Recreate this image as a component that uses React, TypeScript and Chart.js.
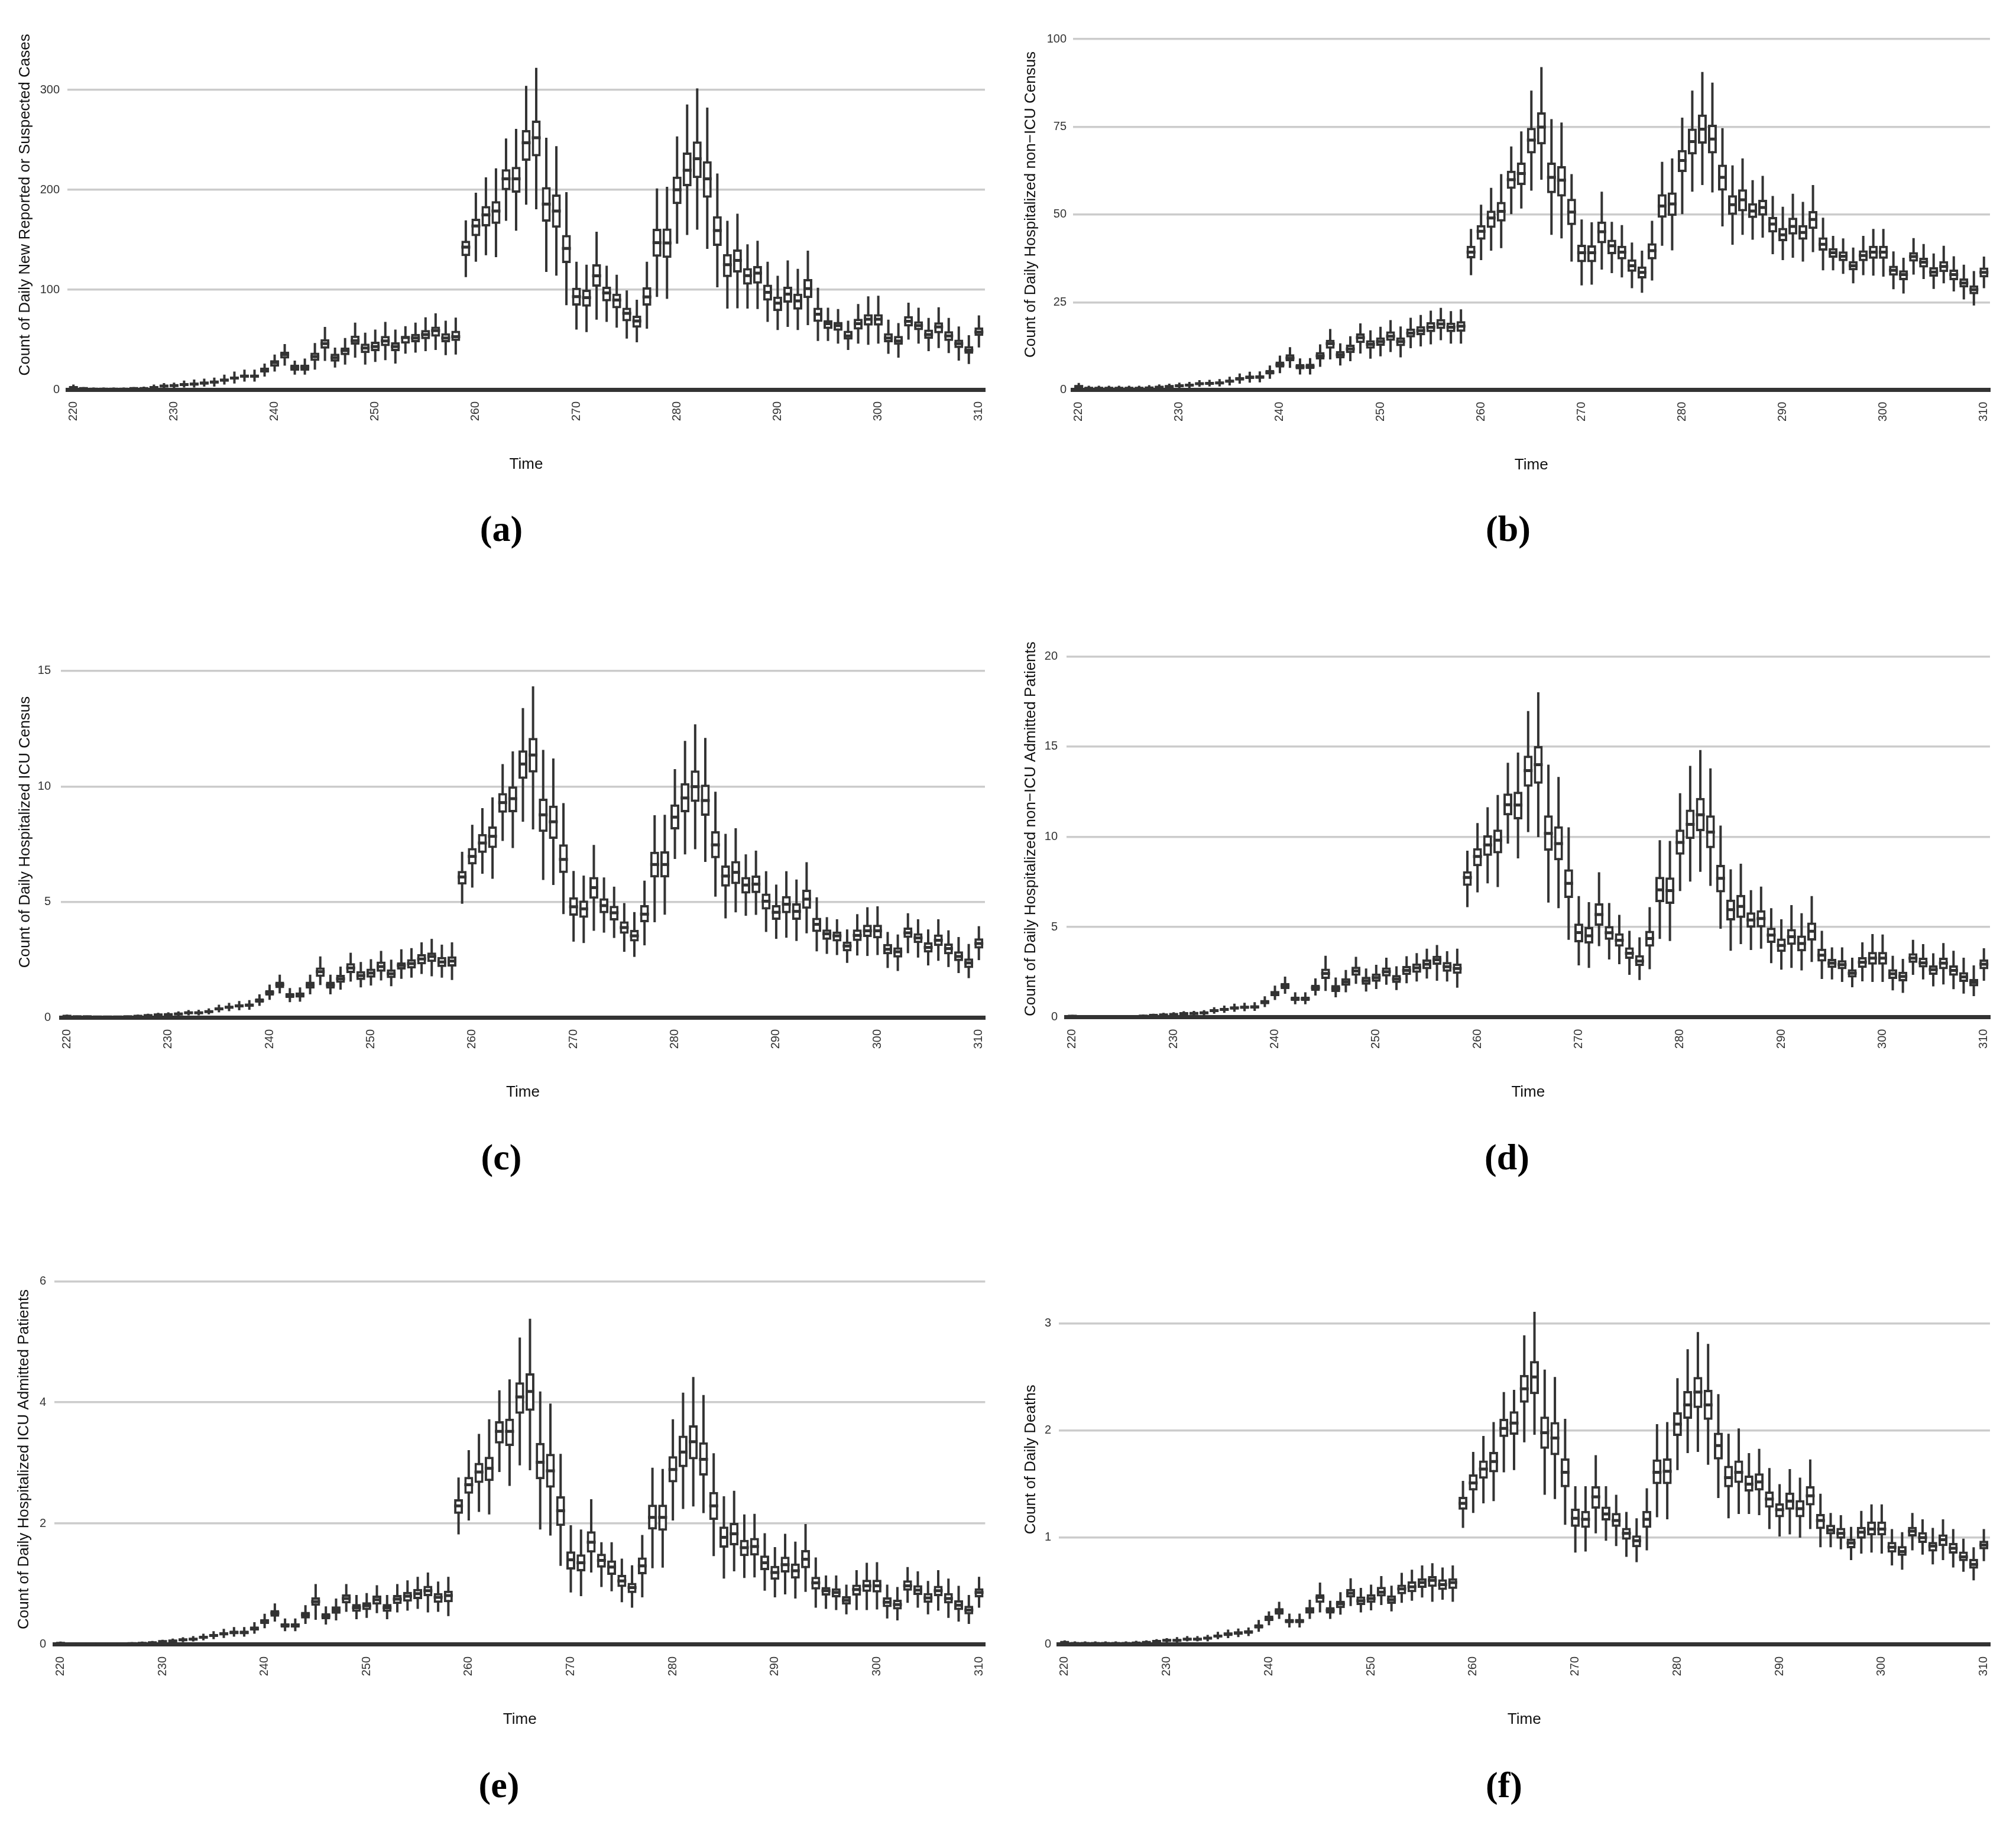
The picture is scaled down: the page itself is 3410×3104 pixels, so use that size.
import React, { useEffect, useRef } from 'react';
import { Chart, registerables } from 'chart.js';

Chart.register(...registerables);

// ---------- data ----------
const days: number[] = Array.from({ length: 91 }, (_, i) => 220 + i);
const xTickValues = [220, 230, 240, 250, 260, 270, 280, 290, 300, 310];

// each entry: [lower whisker, Q1, median, Q3, upper whisker], days 220..310
const casesStats: number[][] = [
  [0,1,2,3,5],[0,0,1,1.5,2.5],[0,0,0.5,1,2],[0,0,0.5,1,2],[0,0,0.5,1,2],[0,0,0.5,1,2],[0,0,1,1.5,2.5],[0,0.5,1,2,3],[0,1,2,3,5],
  [1,2.5,3.5,4.5,6.5],[1,3,4,5,7],[2,4,5,6,9],[2,4.5,5.5,7,10],[3,5,6.5,8,11],[3,6,7.5,9,12],[5,8,9.5,11,15],[6,10,11.5,13,18],
  [8,12,13.5,15,20],[8,12,13.5,15,20],[13,17,19,22,26],[18,23,27,29.5,35],[24,31,35,38,45.5],[15,19,22,25,29],[15,19,22.5,25,31],
  [20,28.7,33,37,46.6],[28.7,41,46,50.4,62.7],[22,28,32,36,42],[25,34.5,39,42,51.7],[32,45,49,54,67],[25,36.6,41.5,46,57],
  [27.6,38.4,43,47.9,60],[29.4,43.5,48.6,53.7,67.8],[26,38.4,43,47.3,60],[36,46,52,53.7,63.5],[37,47.3,51.7,55.8,67],
  [38.4,50.4,55,59.6,72.4],[39.7,53,59,63,76.3],[34.5,47.3,51.7,56.3,69],[35,48.6,53,58.9,72],
  [112.6,133.6,142.6,149,169.4],[128,153.6,163.8,171,197],[134.4,163.3,174.8,183.8,212.4],[132.6,165.9,178.7,188.6,221.4],
  [169,199.6,211,220.6,251.3],[159,197,211,223,261],[185,229,247,259.8,304],[180.4,233.4,252,269.3,322],
  [117.7,168,185.6,202.7,252],[114,162,178.7,195.3,243.7],[84.5,126.7,141.3,154.8,197.6],[60,84,93,101.9,128],
  [57.6,83,92,100,125],[70,103,113.9,125.4,158],[67.8,88.3,96.7,103,124],[62,81.4,89.6,96,115],[51,68.3,76.3,81.9,99.3],
  [47.4,62,68.6,74,90],[61,84,92.7,102.4,128],[92.7,133,147,161,201.4],[90.9,131.8,146.7,161.2,203],[146,185.6,200,213.2,253.4],
  [154.8,203.5,219.6,237.3,285.4],[160,211.7,231,248.3,301.5],[140.8,192,211,228.6,282.3],[102.4,143.8,159.2,173.5,216.3],
  [81,112.6,125,135.7,169],[81.4,117.2,129.3,140.3,176],[81,105,114,121.6,145.4],[80.6,106,116.5,123.6,149],
  [67.8,89,97.3,105,128],[59.6,78.6,86.5,93,113.9],[62.7,87,95.5,103,129.3],[59.6,80,88.8,96,120.8],[64.5,91.6,101,110.6,139],
  [48.6,67.8,75.5,81.9,101.9],[48.6,60.7,66,69.6,81.9],[46,58.9,64,67.8,80.6],[39.7,50,53.7,58.9,69],[46,60,66,70.9,85.7],
  [44.8,64,70.4,75.5,93.4],[46,64,70.4,75.5,94],[35.8,47.3,51.7,56.3,69.9],[32,44.8,48.6,53.7,66.5],[50,63.2,68.3,73.5,87],
  [46,59.4,64,68.3,81.9],[38.4,50.7,55,60,71.7],[41.5,56.3,62.7,67.3,82.4],[36.6,48.6,53.7,58.4,71.7],[29,41.5,46,50,63.2],
  [25.6,35.8,39.4,43.5,54.5],[42.2,53.7,57.6,62.2,74.2],
];

const nonIcuCensusStats: number[][] = [
  [0,0.6,1,1.4,2],[0,0.2,0.5,0.8,1.2],[0,0.2,0.5,0.8,1.2],[0,0.2,0.5,0.8,1.2],[0,0.2,0.5,0.8,1.2],[0,0.2,0.5,0.8,1.2],
  [0,0.2,0.5,0.8,1.2],[0,0.3,0.6,0.9,1.4],[0.1,0.5,0.8,1.1,1.6],[0.3,0.7,1,1.3,1.8],[0.4,0.9,1.2,1.5,2.1],[0.6,1.1,1.4,1.7,2.3],
  [0.9,1.5,1.8,2.1,2.8],[1,1.6,1.9,2.2,2.9],[1,1.7,2,2.4,3.1],[1.3,2.1,2.5,2.9,3.8],[1.8,2.7,3.2,3.7,4.7],[2.1,3.1,3.6,4.1,5.2],
  [2.2,3.2,3.7,4.2,5.3],[3.2,4.4,5,5.7,7],[4.8,6.4,7.2,8.1,9.8],[6.3,8.2,9.1,10.2,12.2],[4.4,5.9,6.6,7.4,9],[4.4,6,6.7,7.5,9.1],
  [6.6,8.7,9.7,10.8,13],[8.7,11.8,13.2,14.3,17.4],[7,9,10,11.1,13.3],[8.2,10.5,11.7,12.9,15.3],[10.4,13.4,14.9,16.1,19],
  [8.9,11.8,13,14.2,17],[9.6,12.6,13.8,15,18],[10.8,14,15.3,16.7,19.9],[9.3,12.5,13.8,15,18.1],[11.9,15,16.2,17.5,20.6],
  [12.4,15.6,16.9,18.2,21.4],[13,16.5,17.9,19.3,22.6],[14.2,17.4,18.8,20.2,23.4],[13.2,16.5,17.9,19.2,22.5],[13.2,16.6,18.2,19.6,23],
  [32.7,37.5,39.3,41.1,45.9],[37,42.8,45.2,47,52.8],[39.7,46.2,49,51.1,57.6],[40.4,48,50.9,53.6,61.5],[50.1,57.3,59.9,62.5,69.4],
  [51.7,58.4,61.7,64.8,73.7],[56.8,67.4,71.2,74.7,85.3],[59.9,70,74.9,79.1,92],[44.2,56.1,60.6,64.8,77.2],[43.2,55.1,59.8,63.8,76.2],
  [36.6,47,50.7,54.5,61.5],[29.8,36.4,39.1,41.4,48.6],[30,36.4,39.1,41.2,47.8],[34.3,41.8,45.1,48,56.5],[33.3,38.7,41.1,42.8,47.9],
  [32.1,37.2,39.3,41.1,47],[29,33.7,35.4,37.2,42],[27.7,31.8,33.5,35.2,39.7],[31.2,37.2,39.7,41.8,48.2],[41.1,49.1,52.4,55.8,65],
  [39.8,49.6,53,56.3,66],[50.1,62.1,65.4,68.4,77.6],[56.5,67.1,70.8,74.5,85.3],[58.4,70.2,74.3,78.5,90.6],[56.3,67.4,71.5,75.6,87.6],
  [46.6,56.8,60.6,64.2,74.6],[41.4,49.9,52.8,55.5,64],[44.2,50.9,54.2,57.2,66],[42.8,49,51,53.2,59.8],[43.4,49.7,52,54.2,61],
  [38.7,44.9,47.3,49.3,55.3],[37,42.4,44.2,46.2,52.2],[37.7,44.3,46.6,49.1,55.9],[36.6,42.8,44.9,47,53.6],[39.3,45.9,48.6,51,58.4],
  [34.1,39.7,41.5,43.5,49.1],[34.1,37.7,39.1,40.4,43.9],[33.1,36.7,38.1,39.5,43.2],[30.4,34.1,35.4,36.7,40.6],[32.7,36.7,38.3,39.8,43.9],
  [32.6,37.4,39.3,41.1,45.9],[32.3,37.4,39.3,41.1,45.9],[28.7,32.6,34.1,35.4,39.5],[27.5,31.3,32.9,34.1,37.7],[32.9,36.6,38,39.3,43.3],
  [31.6,34.9,36.4,37.7,41.6],[28.8,32.3,33.6,35,38.9],[30.4,33.6,35.2,36.7,41.1],[28.1,31.3,32.9,34.3,38.1],[25.8,29.2,30.5,31.8,35.7],
  [24.1,27.3,28.6,29.8,33.9],[29,32.1,33.5,34.9,38],
];

const icuCensusStats: number[][] = [
  [0,0.02,0.05,0.08,0.12],[0,0.01,0.03,0.05,0.08],[0,0.01,0.03,0.05,0.08],[0,0.01,0.02,0.04,0.07],[0,0.01,0.02,0.04,0.07],
  [0,0.01,0.02,0.04,0.07],[0,0.01,0.03,0.05,0.08],[0,0.03,0.05,0.08,0.12],[0.01,0.05,0.08,0.11,0.16],[0.03,0.08,0.11,0.14,0.2],
  [0.04,0.09,0.12,0.15,0.22],[0.06,0.12,0.15,0.18,0.26],[0.09,0.16,0.2,0.24,0.32],[0.09,0.16,0.2,0.24,0.33],[0.13,0.21,0.25,0.3,0.39],
  [0.22,0.31,0.37,0.43,0.55],[0.27,0.38,0.44,0.5,0.63],[0.31,0.43,0.5,0.57,0.71],[0.33,0.46,0.53,0.6,0.75],[0.5,0.64,0.73,0.82,1.0],
  [0.76,0.95,1.07,1.18,1.42],[1.04,1.27,1.42,1.55,1.85],[0.66,0.84,0.95,1.05,1.27],[0.68,0.86,0.98,1.08,1.3],[1.0,1.25,1.4,1.55,1.85],
  [1.4,1.75,1.98,2.16,2.64],[1.0,1.25,1.4,1.55,1.85],[1.2,1.5,1.67,1.84,2.2],[1.55,1.92,2.14,2.35,2.8],[1.3,1.62,1.81,2.0,2.4],
  [1.38,1.72,1.92,2.11,2.52],[1.6,1.98,2.2,2.42,2.88],[1.35,1.7,1.89,2.08,2.5],[1.67,2.07,2.25,2.38,2.95],[1.72,2.12,2.33,2.52,3.0],
  [1.88,2.3,2.53,2.74,3.25],[1.78,2.4,2.64,2.81,3.4],[1.72,2.18,2.4,2.62,3.15],[1.62,2.2,2.44,2.64,3.25],
  [4.92,5.75,6.08,6.34,7.17],[5.62,6.62,6.97,7.33,8.34],[6.22,7.12,7.55,7.94,9.06],[6.0,7.33,7.84,8.27,9.53],[7.64,8.86,9.3,9.71,10.97],
  [7.33,8.88,9.47,10,11.52],[8.47,10.33,10.97,11.56,13.39],[8.14,10.6,11.36,12.1,14.33],[5.95,8.03,8.77,9.47,11.58],[5.73,7.73,8.47,9.17,11.21],
  [4.47,6.25,6.84,7.49,9.28],[3.28,4.4,4.79,5.2,6.34],[3.22,4.31,4.7,5.06,6.14],[3.75,5.14,5.62,6.08,7.47],[3.67,4.51,4.84,5.16,6.06],
  [3.44,4.2,4.53,4.83,5.66],[2.84,3.62,3.89,4.16,4.95],[2.62,3.29,3.53,3.79,4.56],[3.12,4.12,4.47,4.86,5.92],[4.12,6.06,6.62,7.17,8.75],
  [4.45,6.06,6.62,7.19,8.77],[6.86,8.14,8.67,9.22,10.75],[7.06,8.88,9.5,10.14,11.97],[7.28,9.33,9.99,10.69,12.69],[6.73,8.73,9.39,10.08,12.1],
  [5.23,6.89,7.47,8.06,9.77],[4.29,5.66,6.12,6.58,7.95],[4.55,5.77,6.28,6.77,8.19],[4.4,5.36,5.73,6.08,7.06],[4.44,5.38,5.77,6.14,7.22],
  [3.7,4.67,5.03,5.36,6.33],[3.4,4.22,4.55,4.86,5.75],[3.45,4.51,4.9,5.25,6.33],[3.31,4.22,4.59,4.94,5.97],[3.64,4.7,5.12,5.53,6.72],
  [2.86,3.7,4.03,4.31,5.2],[2.75,3.36,3.62,3.81,4.34],[2.7,3.29,3.53,3.72,4.25],[2.36,2.86,3.09,3.28,3.81],[2.68,3.31,3.55,3.81,4.47],
  [2.66,3.48,3.75,4.01,4.77],[2.7,3.42,3.75,4.01,4.81],[2.14,2.73,2.95,3.18,3.7],[2.01,2.59,2.84,3.03,3.59],[2.78,3.44,3.66,3.89,4.51],
  [2.59,3.22,3.44,3.64,4.25],[2.25,2.81,3.03,3.25,3.81],[2.45,3.09,3.34,3.59,4.25],[2.18,2.73,2.98,3.2,3.77],[1.92,2.44,2.64,2.86,3.48],
  [1.7,2.14,2.36,2.55,3.18],[2.48,2.98,3.2,3.42,3.95],
];

const nonIcuAdmitStats: number[][] = [
  [0,0.02,0.05,0.08,0.13],[0,0.01,0.03,0.05,0.08],[0,0.01,0.03,0.05,0.08],[0,0.01,0.02,0.04,0.07],[0,0.01,0.02,0.04,0.07],
  [0,0.01,0.03,0.05,0.08],[0,0.01,0.03,0.05,0.08],[0,0.03,0.06,0.09,0.14],[0.02,0.06,0.1,0.13,0.19],[0.04,0.09,0.13,0.17,0.24],
  [0.05,0.11,0.15,0.19,0.27],[0.08,0.15,0.2,0.24,0.33],[0.09,0.16,0.21,0.26,0.35],[0.11,0.19,0.24,0.29,0.39],[0.19,0.29,0.36,0.42,0.55],
  [0.24,0.35,0.43,0.5,0.64],[0.3,0.42,0.51,0.59,0.75],[0.33,0.46,0.55,0.63,0.8],[0.35,0.48,0.57,0.66,0.83],[0.56,0.72,0.84,0.95,1.16],
  [0.95,1.17,1.31,1.45,1.75],[1.3,1.56,1.73,1.9,2.25],[0.72,0.9,1.02,1.13,1.38],[0.72,0.9,1.02,1.13,1.38],[1.2,1.45,1.63,1.8,2.15],
  [1.45,2.12,2.42,2.69,3.4],[1.1,1.4,1.59,1.78,2.2],[1.38,1.74,1.95,2.16,2.62],[1.85,2.3,2.56,2.8,3.35],[1.42,1.8,2.02,2.24,2.7],
  [1.56,1.96,2.19,2.42,2.9],[1.8,2.26,2.52,2.76,3.3],[1.5,1.9,2.12,2.34,2.82],[1.88,2.34,2.59,2.84,3.38],[1.98,2.46,2.73,2.98,3.55],
  [2.14,2.66,2.94,3.2,3.8],[2.02,2.9,3.18,3.4,4.0],[1.98,2.52,2.8,3.06,3.66],[1.63,2.4,2.7,2.97,3.8],
  [6.1,7.28,7.75,8.09,9.23],[6.92,8.37,8.91,9.37,10.76],[7.42,8.94,9.55,10.08,11.64],[7.21,9.08,9.81,10.4,12.32],[9.62,11.19,11.78,12.4,14.1],
  [8.8,10.97,11.76,12.5,14.67],[10.26,12.78,13.67,14.5,16.97],[9.98,12.94,14,15.03,18.01],[6.35,9.23,10.19,11.19,14],[6.04,8.7,9.62,10.58,13.32],
  [4.29,6.61,7.42,8.2,10.52],[2.87,4.15,4.69,5.19,6.71],[2.73,4.08,4.51,5,6.38],[3.94,5.07,5.69,6.31,8.03],[3.2,4.29,4.68,5.05,6.33],
  [2.94,3.91,4.26,4.65,5.67],[2.35,3.23,3.54,3.87,4.79],[2.06,2.84,3.11,3.44,4.43],[2.66,3.91,4.36,4.79,6.1],[4.34,6.38,7.06,7.78,9.81],
  [4.22,6.28,7.02,7.75,9.77],[6.99,9.01,9.69,10.4,12.42],[7.52,9.88,10.69,11.51,13.93],[8.06,10.31,11.22,12.15,14.81],[7.28,9.37,10.26,11.19,13.79],
  [4.9,6.92,7.7,8.44,10.62],[3.68,5.36,5.96,6.52,8.2],[4.05,5.5,6.14,6.78,8.51],[3.72,4.96,5.39,5.81,7.04],[3.8,4.98,5.47,5.93,7.24],
  [2.99,4.12,4.55,4.96,6.04],[2.63,3.62,3.98,4.36,5.43],[2.73,4.01,4.46,4.89,6.21],[2.59,3.65,4.08,4.53,5.76],[3.06,4.25,4.76,5.25,6.71],
  [2.12,3.08,3.44,3.8,4.79],[2.09,2.73,2.99,3.23,3.87],[1.95,2.66,2.91,3.16,3.87],[1.66,2.2,2.44,2.66,3.3],[1.99,2.73,3.04,3.33,4.15],
  [1.95,2.91,3.27,3.62,4.61],[1.95,2.91,3.27,3.62,4.58],[1.49,2.12,2.4,2.66,3.4],[1.35,1.99,2.26,2.52,3.23],[2.35,3.01,3.27,3.54,4.29],
  [2.09,2.76,3.01,3.3,4.05],[1.71,2.35,2.63,2.87,3.54],[1.81,2.66,2.99,3.3,4.11],[1.55,2.3,2.59,2.87,3.68],[1.31,1.95,2.23,2.49,3.3],
  [1.17,1.71,1.92,2.12,2.87],[2.02,2.66,2.94,3.2,3.82],
];

const icuAdmitStats: number[][] = [
  [0,0.005,0.02,0.03,0.05],[0,0.003,0.01,0.02,0.03],[0,0.003,0.01,0.02,0.03],[0,0.003,0.01,0.02,0.03],[0,0.003,0.01,0.02,0.03],
  [0,0.003,0.01,0.02,0.03],[0,0.003,0.01,0.02,0.03],[0,0.005,0.015,0.025,0.04],[0.005,0.01,0.02,0.03,0.05],[0.01,0.02,0.03,0.04,0.06],
  [0.02,0.04,0.05,0.06,0.08],[0.03,0.05,0.06,0.07,0.1],[0.04,0.06,0.08,0.09,0.12],[0.05,0.07,0.09,0.11,0.14],[0.07,0.1,0.12,0.14,0.18],
  [0.09,0.13,0.15,0.17,0.22],[0.11,0.15,0.18,0.2,0.26],[0.13,0.17,0.2,0.23,0.29],[0.13,0.17,0.2,0.23,0.29],[0.18,0.23,0.26,0.3,0.37],
  [0.27,0.34,0.38,0.42,0.51],[0.38,0.46,0.52,0.57,0.68],[0.22,0.28,0.32,0.35,0.43],[0.22,0.28,0.32,0.35,0.43],[0.34,0.43,0.49,0.54,0.65],
  [0.41,0.64,0.71,0.78,1.0],[0.33,0.42,0.47,0.52,0.63],[0.4,0.51,0.57,0.63,0.76],[0.54,0.68,0.76,0.83,1.0],[0.42,0.54,0.61,0.67,0.82],
  [0.44,0.57,0.64,0.7,0.85],[0.52,0.66,0.74,0.81,0.98],[0.42,0.54,0.61,0.67,0.82],[0.53,0.67,0.75,0.82,1.0],[0.56,0.71,0.8,0.87,1.06],
  [0.59,0.75,0.84,0.92,1.12],[0.53,0.8,0.89,0.97,1.19],[0.54,0.69,0.78,0.85,1.04],[0.47,0.7,0.81,0.89,1.12],
  [1.82,2.16,2.29,2.4,2.76],[2.05,2.49,2.64,2.77,3.21],[2.19,2.67,2.85,3.0,3.48],[2.15,2.7,2.91,3.1,3.72],[2.85,3.32,3.52,3.69,4.2],
  [2.62,3.28,3.52,3.73,4.38],[2.96,3.81,4.09,4.33,5.07],[2.88,3.86,4.18,4.48,5.38],[1.9,2.73,3.01,3.33,4.18],[1.8,2.59,2.87,3.15,3.98],
  [1.3,1.96,2.21,2.45,3.15],[0.86,1.24,1.4,1.54,1.97],[0.8,1.21,1.35,1.49,1.9],[1.19,1.52,1.69,1.87,2.4],[0.95,1.27,1.39,1.5,1.69],
  [0.88,1.15,1.28,1.39,1.69],[0.7,0.95,1.05,1.15,1.42],[0.61,0.85,0.94,1.02,1.31],[0.78,1.16,1.3,1.44,1.81],[1.26,1.9,2.1,2.31,2.92],
  [1.27,1.88,2.1,2.31,2.9],[2.05,2.68,2.89,3.11,3.72],[2.24,2.93,3.18,3.45,4.16],[2.28,3.06,3.35,3.62,4.42],[2.17,2.79,3.06,3.34,4.12],
  [1.46,2.06,2.29,2.52,3.16],[1.09,1.6,1.77,1.95,2.45],[1.21,1.64,1.83,2.01,2.54],[1.1,1.46,1.6,1.73,2.15],[1.11,1.47,1.62,1.76,2.16],
  [0.89,1.23,1.35,1.47,1.84],[0.78,1.07,1.19,1.3,1.61],[0.83,1.19,1.32,1.45,1.83],[0.76,1.09,1.22,1.34,1.7],[0.87,1.26,1.41,1.56,1.99],
  [0.61,0.91,1.02,1.12,1.44],[0.59,0.81,0.89,0.95,1.14],[0.57,0.78,0.86,0.93,1.14],[0.5,0.66,0.73,0.8,0.99],[0.57,0.81,0.91,0.99,1.23],
  [0.57,0.87,0.97,1.07,1.35],[0.58,0.86,0.97,1.07,1.36],[0.43,0.62,0.7,0.78,0.99],[0.4,0.58,0.66,0.74,0.95],[0.69,0.89,0.97,1.06,1.28],
  [0.61,0.82,0.9,0.98,1.21],[0.5,0.69,0.77,0.85,1.05],[0.56,0.8,0.89,0.97,1.23],[0.44,0.68,0.76,0.85,1.09],[0.38,0.57,0.65,0.73,0.97],
  [0.34,0.5,0.57,0.64,0.82],[0.61,0.78,0.86,0.93,1.12],
];

const deathsStats: number[][] = [
  [0,0.005,0.02,0.03,0.04],[0,0.003,0.01,0.02,0.03],[0,0.003,0.01,0.02,0.03],[0,0.003,0.01,0.02,0.03],[0,0.003,0.01,0.02,0.03],
  [0,0.003,0.01,0.02,0.03],[0,0.003,0.01,0.02,0.03],[0,0.005,0.015,0.025,0.035],[0.005,0.01,0.02,0.03,0.04],[0.01,0.02,0.03,0.04,0.05],
  [0.02,0.03,0.04,0.05,0.06],[0.02,0.03,0.04,0.05,0.07],[0.03,0.04,0.05,0.06,0.08],[0.03,0.04,0.05,0.06,0.08],[0.03,0.05,0.06,0.07,0.09],
  [0.05,0.07,0.08,0.09,0.12],[0.06,0.08,0.1,0.11,0.14],[0.07,0.09,0.11,0.12,0.15],[0.08,0.1,0.12,0.13,0.16],[0.12,0.15,0.17,0.19,0.23],
  [0.18,0.22,0.24,0.27,0.31],[0.24,0.28,0.31,0.34,0.4],[0.16,0.2,0.22,0.24,0.29],[0.16,0.2,0.22,0.24,0.29],[0.24,0.29,0.32,0.35,0.42],
  [0.3,0.39,0.44,0.47,0.58],[0.24,0.29,0.32,0.35,0.41],[0.28,0.34,0.38,0.41,0.49],[0.36,0.44,0.48,0.52,0.62],[0.3,0.37,0.41,0.45,0.53],
  [0.32,0.39,0.43,0.47,0.56],[0.37,0.45,0.49,0.54,0.64],[0.31,0.38,0.42,0.46,0.55],[0.39,0.47,0.52,0.56,0.67],[0.41,0.49,0.54,0.59,0.7],
  [0.44,0.53,0.58,0.62,0.74],[0.4,0.54,0.6,0.64,0.76],[0.42,0.51,0.56,0.61,0.72],[0.4,0.52,0.58,0.62,0.74],
  [1.09,1.26,1.32,1.38,1.53],[1.23,1.44,1.51,1.59,1.8],[1.32,1.55,1.64,1.72,1.95],[1.34,1.61,1.71,1.8,2.08],[1.61,1.94,2.02,2.11,2.36],
  [1.63,1.96,2.07,2.18,2.38],[1.89,2.26,2.39,2.52,2.89],[1.96,2.34,2.5,2.65,3.11],[1.4,1.83,1.98,2.13,2.57],[1.36,1.77,1.93,2.08,2.5],
  [1.12,1.47,1.61,1.74,2.11],[0.86,1.1,1.18,1.27,1.48],[0.87,1.09,1.17,1.25,1.48],[1.04,1.27,1.38,1.48,1.77],[0.97,1.16,1.22,1.29,1.48],
  [0.92,1.1,1.16,1.23,1.4],[0.82,0.98,1.04,1.09,1.24],[0.77,0.91,0.97,1.02,1.18],[0.88,1.09,1.17,1.25,1.46],[1.19,1.5,1.61,1.73,2.06],
  [1.17,1.5,1.62,1.74,2.08],[1.63,1.95,2.06,2.17,2.49],[1.79,2.11,2.24,2.37,2.76],[1.8,2.21,2.36,2.5,2.92],[1.68,2.1,2.24,2.38,2.81],
  [1.37,1.73,1.86,1.98,2.34],[1.18,1.47,1.56,1.67,1.97],[1.22,1.51,1.61,1.72,2.02],[1.22,1.43,1.5,1.58,1.79],[1.21,1.44,1.52,1.6,1.83],
  [1.08,1.28,1.36,1.43,1.65],[1.01,1.19,1.26,1.32,1.5],[1.03,1.26,1.34,1.42,1.64],[1.0,1.19,1.27,1.35,1.56],[1.08,1.3,1.39,1.48,1.73],
  [0.91,1.08,1.16,1.22,1.41],[0.91,1.03,1.07,1.12,1.23],[0.89,0.99,1.04,1.09,1.21],[0.79,0.9,0.95,0.99,1.1],[0.85,0.99,1.05,1.1,1.25],
  [0.86,1.02,1.08,1.15,1.31],[0.85,1.02,1.08,1.15,1.31],[0.74,0.86,0.91,0.96,1.08],[0.7,0.83,0.87,0.92,1.05],[0.88,1.01,1.06,1.1,1.23],
  [0.84,0.95,1.0,1.05,1.17],[0.75,0.87,0.92,0.96,1.09],[0.79,0.92,0.98,1.03,1.17],[0.72,0.85,0.9,0.95,1.08],[0.68,0.78,0.82,0.87,0.99],
  [0.6,0.71,0.75,0.8,0.91],[0.78,0.89,0.93,0.97,1.08],
];

const casesTicks = [0, 100, 200, 300];
const nonIcuCensusTicks = [0, 25, 50, 75, 100];
const icuCensusTicks = [0, 5, 10, 15];
const nonIcuAdmitTicks = [0, 5, 10, 15, 20];
const icuAdmitTicks = [0, 2, 4, 6];
const deathsTicks = [0, 1, 2, 3];

// ---------- styling / layout ----------
const DARK = '#333333';
const GRID = '#cccccc';
const FONT = "'Liberation Sans', Arial, Helvetica, sans-serif";
const X_MIN = 219.4;
const X_MAX = 310.6;
const PANEL_W = 1705;
const X_AXIS_H = 171;

type Spec = {
  title: string; stats: number[][]; ticks: number[]; ymax: number; tag: string;
  canvasLeft: number; canvasTop: number; plotLeft: number; plotRight: number; plotTop: number; zero: number;
  titleX: number; tickRight: number; tagX: number; tagY: number;
};

const specs: Spec[] = [
  { title: 'Count of Daily New Reported or Suspected Cases', stats: casesStats, ticks: casesTicks, ymax: 370, tag: '(a)',
    canvasLeft: 0, canvasTop: 0, plotLeft: 114, plotRight: 1666, plotTop: 33.7, zero: 659, titleX: 43, tickRight: 101, tagX: 848, tagY: 894 },
  { title: 'Count of Daily Hospitalized non\u2212ICU Census', stats: nonIcuCensusStats, ticks: nonIcuCensusTicks, ymax: 105.7, tag: '(b)',
    canvasLeft: 1705, canvasTop: 0, plotLeft: 1814.5, plotRight: 3366, plotTop: 32.2, zero: 659.7, titleX: 1743.6, tickRight: 1804, tagX: 2551, tagY: 894 },
  { title: 'Count of Daily Hospitalized ICU Census', stats: icuCensusStats, ticks: icuCensusTicks, ymax: 16.05, tag: '(c)',
    canvasLeft: 0, canvasTop: 1000, plotLeft: 103, plotRight: 1666, plotTop: 1093.9, zero: 1721, titleX: 43, tickRight: 86, tagX: 848, tagY: 1957 },
  { title: 'Count of Daily Hospitalized non\u2212ICU Admitted Patients', stats: nonIcuAdmitStats, ticks: nonIcuAdmitTicks, ymax: 20.88, tag: '(d)',
    canvasLeft: 1705, canvasTop: 1000, plotLeft: 1803.6, plotRight: 3366, plotTop: 1083.5, zero: 1720.6, titleX: 1743.6, tickRight: 1789, tagX: 2549, tagY: 1957 },
  { title: 'Count of Daily Hospitalized ICU Admitted Patients', stats: icuAdmitStats, ticks: icuAdmitTicks, ymax: 6.12, tag: '(e)',
    canvasLeft: 0, canvasTop: 2080, plotLeft: 92, plotRight: 1666.4, plotTop: 2155, zero: 2781.9, titleX: 41, tickRight: 78, tagX: 844, tagY: 3019 },
  { title: 'Count of Daily Deaths', stats: deathsStats, ticks: deathsTicks, ymax: 3.46, tag: '(f)',
    canvasLeft: 1705, canvasTop: 2080, plotLeft: 1790.5, plotRight: 3366, plotTop: 2155.6, zero: 2781.9, titleX: 1743.6, tickRight: 1778, tagX: 2544, tagY: 3019 },
];

function BoxPanel({ spec }: { spec: Spec }) {
  const ref = useRef<HTMLCanvasElement>(null);
  const height = Math.round(spec.zero + X_AXIS_H - spec.canvasTop);

  useEffect(() => {
    if (!ref.current) return;
    const s = spec;
    const whiskers = days.map((d, i) => ({ x: d, y: [s.stats[i][0], s.stats[i][4]] }));
    const boxes = days.map((d, i) => ({ x: d, y: [s.stats[i][1], s.stats[i][3]] }));
    const medians = days.map((d, i) => ({ x: d, y: s.stats[i][2] }));
    const yAxisW = s.plotLeft - s.canvasLeft;
    const xAxisH = height - (s.zero - s.canvasTop);

    const chart = new Chart(ref.current, {
      type: 'bar',
      data: {
        datasets: [
          { type: 'scatter', data: medians, pointStyle: 'line', pointRadius: 7.5, pointHoverRadius: 7.5,
            pointBorderWidth: 5, pointBorderColor: DARK, borderColor: DARK, showLine: false, order: 0 } as any,
          { type: 'bar', data: boxes as any, backgroundColor: '#ffffff', borderColor: DARK, borderWidth: 4,
            borderSkipped: false, barThickness: 15, grouped: false, inflateAmount: 0, order: 1 } as any,
          { type: 'bar', data: whiskers as any, backgroundColor: DARK, borderWidth: 0,
            barThickness: 4, grouped: false, inflateAmount: 0, order: 2 } as any,
        ],
      },
      options: {
        animation: false,
        responsive: false,
        devicePixelRatio: 1,
        events: [],
        layout: {
          padding: {
            top: s.plotTop - s.canvasTop,
            left: 0,
            right: s.canvasLeft + PANEL_W - s.plotRight,
            bottom: 0,
          },
        },
        plugins: { legend: { display: false }, tooltip: { enabled: false } },
        scales: {
          x: {
            type: 'linear', min: X_MIN, max: X_MAX, offset: false,
            afterBuildTicks: (sc: any) => { sc.ticks = xTickValues.map((v) => ({ value: v })); },
            afterFit: (sc: any) => { sc.height = xAxisH; },
            grid: { display: false, drawTicks: false, offset: false },
            border: { display: true, color: DARK, width: 7 },
            ticks: { autoSkip: false, minRotation: 90, maxRotation: 90, padding: 20, color: DARK,
              font: { family: FONT, size: 20 }, callback: (v: any) => String(v) },
            title: { display: true, text: 'Time', color: '#111111', font: { family: FONT, size: 26 },
              padding: { top: 0, bottom: 28.4 } },
          },
          y: {
            type: 'linear', min: 0, max: s.ymax,
            afterBuildTicks: (sc: any) => { sc.ticks = s.ticks.map((v) => ({ value: v })); },
            afterFit: (sc: any) => { sc.width = yAxisW; },
            grid: { color: GRID, lineWidth: 3.5, drawTicks: false },
            border: { display: false },
            ticks: { padding: s.plotLeft - s.tickRight, color: DARK, font: { family: FONT, size: 20 } },
            title: { display: true, text: s.title, color: '#111111', font: { family: FONT, size: 26 },
              padding: { top: s.titleX - s.canvasLeft - 15.6, bottom: 0 } },
          },
        },
      } as any,
    });
    return () => chart.destroy();
  }, [spec, height]);

  return (
    <canvas
      ref={ref}
      width={PANEL_W}
      height={height}
      style={{ position: 'absolute', left: spec.canvasLeft, top: spec.canvasTop, width: PANEL_W, height }}
    />
  );
}

export default function App() {
  return (
    <div style={{ position: 'absolute', left: 0, top: 0, width: 3410, height: 3104, background: '#ffffff', overflow: 'hidden' }}>
      {specs.map((s) => (
        <React.Fragment key={s.tag}>
          <BoxPanel spec={s} />
          <div
            style={{
              position: 'absolute', left: s.tagX - 100, top: s.tagY - 36, width: 200, height: 72,
              textAlign: 'center', lineHeight: '72px', fontFamily: "'Liberation Serif', 'DejaVu Serif', serif",
              fontWeight: 'bold', fontSize: 62, color: '#000000',
            }}
          >
            {s.tag}
          </div>
        </React.Fragment>
      ))}
    </div>
  );
}
